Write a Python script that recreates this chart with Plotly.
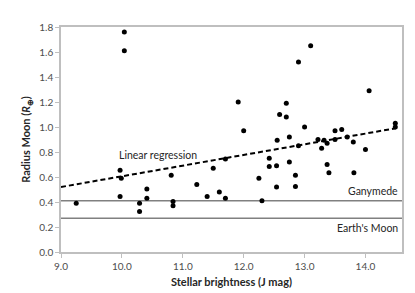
import plotly.graph_objects as go

# Data
brightness = [9.25, 9.97, 9.99, 9.97, 10.04, 10.04, 10.29, 10.29, 10.41, 10.41,
              10.81, 10.84, 10.84, 11.23, 11.40, 11.50, 11.60, 11.70, 11.70, 11.91,
              12.00, 12.25, 12.30, 12.42, 12.42, 12.54, 12.54, 12.55, 12.59, 12.70,
              12.70, 12.75, 12.75, 12.85, 12.85, 12.90, 12.90, 13.00, 13.10, 13.22,
              13.28, 13.32, 13.37, 13.37, 13.40, 13.50, 13.50, 13.61, 13.70, 13.80,
              13.81, 14.00, 14.06, 14.49, 14.49]
radius = [0.39, 0.655, 0.59, 0.445, 1.76, 1.61, 0.39, 0.325, 0.505, 0.43,
          0.615, 0.405, 0.37, 0.54, 0.445, 0.67, 0.48, 0.43, 0.745, 1.20,
          0.97, 0.59, 0.41, 0.75, 0.685, 0.69, 0.52, 0.895, 1.10, 1.19,
          1.08, 0.92, 0.72, 0.615, 0.525, 1.52, 0.85, 1.00, 1.65, 0.90,
          0.83, 0.895, 0.87, 0.70, 0.635, 0.97, 0.90, 0.98, 0.92, 0.88,
          0.635, 0.82, 1.29, 1.03, 1.00]

regression_x = [9.0, 14.5]
regression_y = [0.52, 0.99]

x_range = [9.0, 14.6]
ganymede_radius = 0.41
moon_radius = 0.27

x_ticks = [9.0, 10.0, 11.0, 12.0, 13.0, 14.0]
y_ticks = [0.0, 0.2, 0.4, 0.6, 0.8, 1.0, 1.2, 1.4, 1.6, 1.8]

FONT = "Lato"
GRAY = "#4d4d4d"

fig = go.Figure()

# reference lines
for yv in (ganymede_radius, moon_radius):
    fig.add_trace(go.Scatter(x=x_range, y=[yv, yv], mode="lines",
                             line=dict(color="#808080", width=1.5),
                             hoverinfo="skip", showlegend=False))

fig.add_trace(go.Scatter(x=regression_x, y=regression_y, mode="lines",
                         line=dict(color="black", width=2, dash="5px,3px"),
                         showlegend=False))

fig.add_trace(go.Scatter(x=brightness, y=radius, mode="markers",
                         marker=dict(color="black", size=5),
                         showlegend=False))

fig.add_annotation(x=9.92, y=0.78, text="Linear regression", showarrow=False,
                   xanchor="left", yanchor="middle",
                   font=dict(family=FONT, size=10.5, color="#262626"))
fig.add_annotation(x=14.57, y=0.486, text="Ganymede", showarrow=False,
                   xanchor="right", yanchor="middle",
                   font=dict(family=FONT, size=10.5, color="#262626"))
fig.add_annotation(x=14.57, y=0.19, text="Earth's Moon", showarrow=False,
                   xanchor="right", yanchor="middle",
                   font=dict(family=FONT, size=10.5, color="#262626"))

fig.update_layout(
    width=415, height=293,
    margin=dict(l=53, r=21, t=13, b=49),
    paper_bgcolor="white", plot_bgcolor="white",
    font=dict(family=FONT, size=10, color=GRAY),
    xaxis=dict(range=x_range, tickvals=x_ticks, tickformat=".1f",
               showgrid=False, zeroline=False,
               showline=True, mirror=True, linecolor="#bfbfbf", linewidth=1.5,
               ticks="outside", ticklen=4, tickcolor="#bfbfbf",
               tickfont=dict(family=FONT, size=10, color=GRAY),
               title=dict(text="<b>Stellar brightness (J mag)</b>",
                          font=dict(family=FONT, size=11, color="#262626"),
                          standoff=8)),
    yaxis=dict(range=[0, 1.8], tickvals=y_ticks, tickformat=".1f",
               showgrid=False, zeroline=False,
               showline=True, mirror=True, linecolor="#bfbfbf", linewidth=1.5,
               ticks="outside", ticklen=4, tickcolor="#bfbfbf",
               tickfont=dict(family=FONT, size=10, color=GRAY),
               title=dict(text="<b>Radius Moon (<i>R</i><sub>⊕</sub>)</b>",
                          font=dict(family=FONT, size=11, color="#262626"),
                          standoff=6)),
)

fig.write_html("out.html")
